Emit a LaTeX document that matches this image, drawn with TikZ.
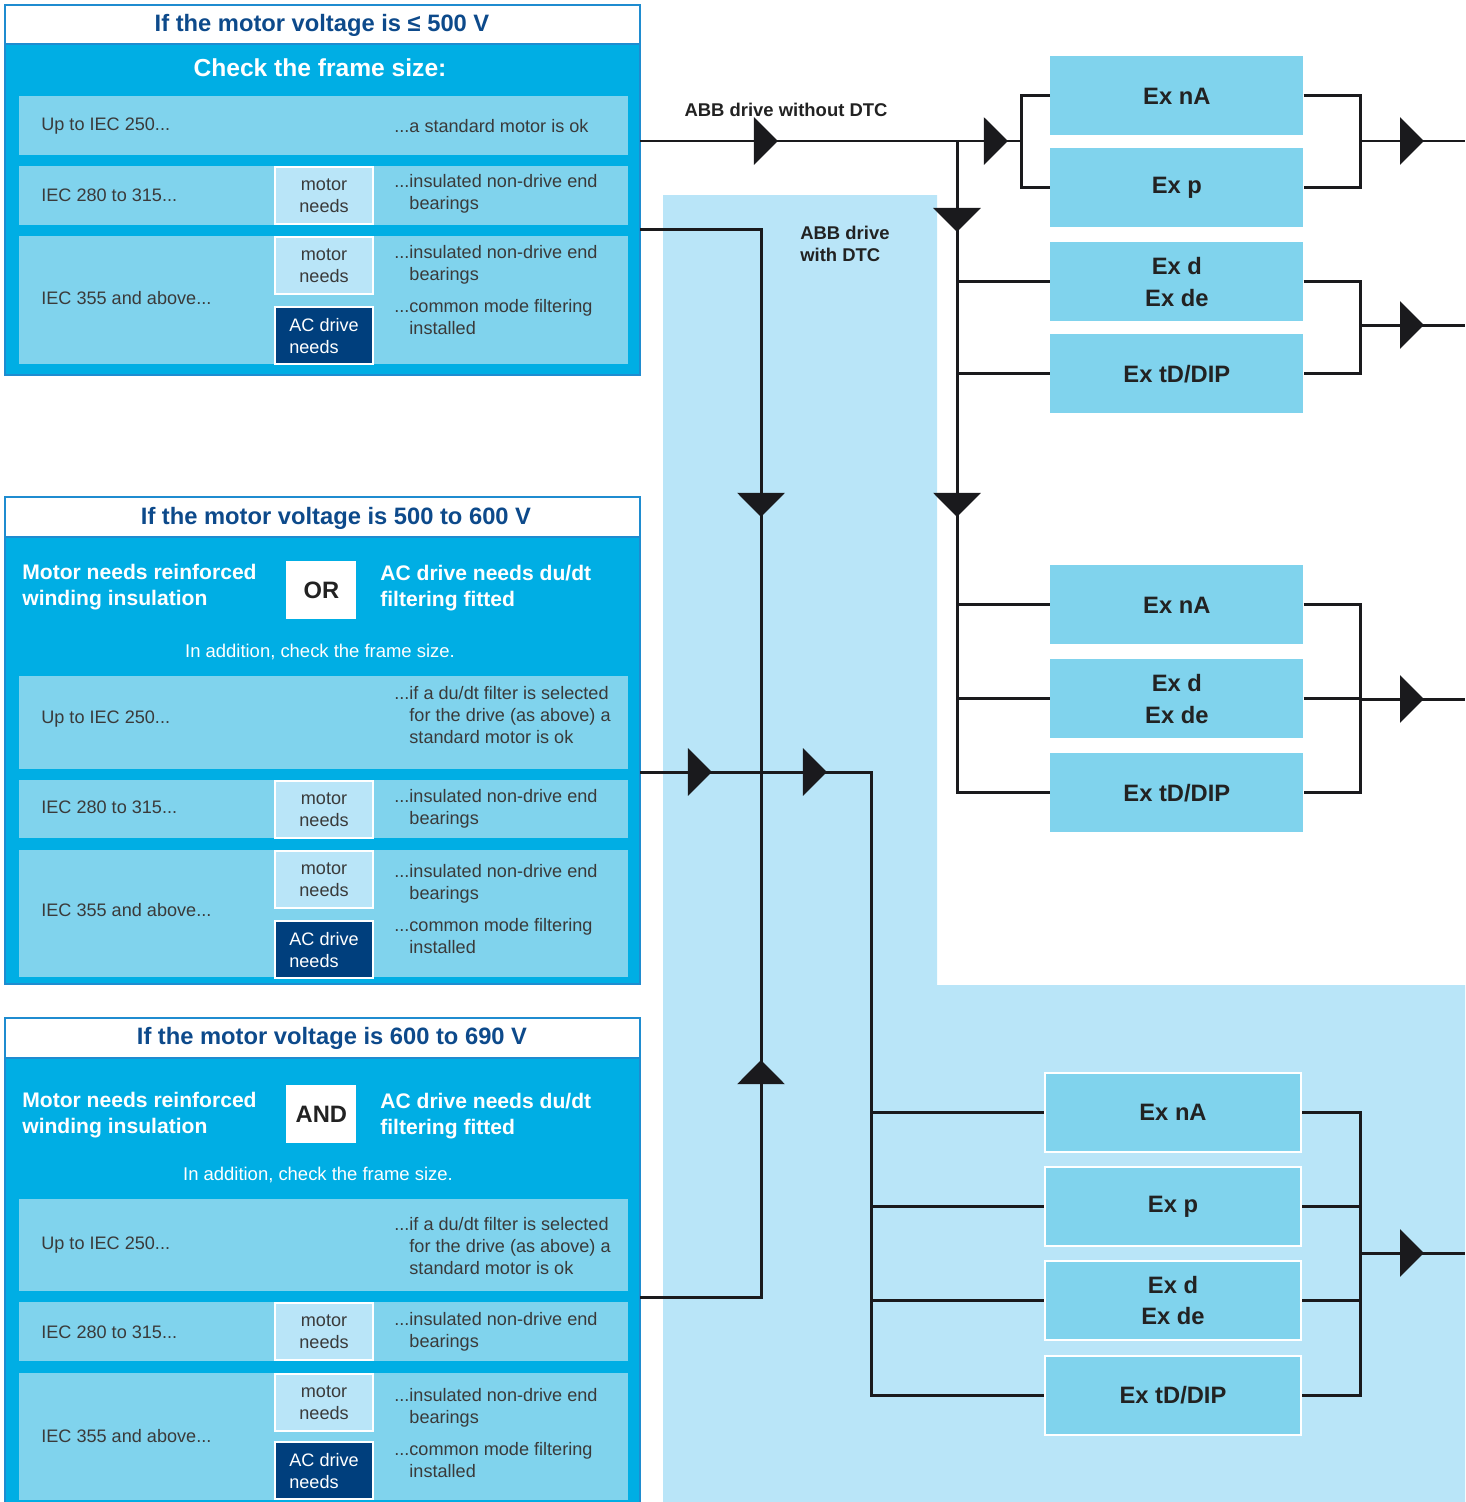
\documentclass[tikz,border=0pt]{standalone}
\usepackage{fontspec}
\setmainfont{Liberation Sans}
\usetikzlibrary{arrows.meta,decorations.markings}

\definecolor{drivebg}{HTML}{B9E5F8}
\definecolor{panelcyan}{HTML}{00AEE4}
\definecolor{panelline}{HTML}{1F8CD0}
\definecolor{rowblue}{HTML}{80D3ED}
\definecolor{navy}{HTML}{003F7D}
\definecolor{titleblue}{HTML}{0D4A8B}
\definecolor{textgray}{HTML}{3A3A3A}
\definecolor{textdark}{HTML}{222222}
\definecolor{linegray}{HTML}{1A1A1D}

\begin{document}
\begin{tikzpicture}[x=0.02cm, y=-0.02cm,
    flow/.style={draw=linegray, line width=1.7pt},
    tip at/.style={postaction={decorate, decoration={markings,
        mark=at position #1 with {\arrow{Triangle[length=0.48cm,width=0.94cm]}}}}},
    panel/.style={draw=panelline, fill=panelcyan, line width=1.2pt},
    head/.style={draw=panelline, fill=white, line width=1.2pt},
    title/.style={text=titleblue, font=\titlefont},
    check/.style={text=white, font=\checkfont},
    cond/.style={anchor=west, align=left, inner sep=0pt, text=white, font=\condfont},
    logic/.style={fill=white, anchor=north west, minimum width=1.4cm, minimum height=1.16cm, inner sep=0pt, text=textdark, font=\titlefont},
    extra/.style={text=white, font=\addfont},
    rowtext/.style={anchor=west, align=left, inner sep=0pt, text=textgray, font=\rowfont},
    needbox/.style={fill=drivebg, draw=white, line width=1.2pt, anchor=north west, minimum width=1.96cm, minimum height=1.14cm, inner sep=0pt, align=center, text=textgray, font=\rowfont},
    acbox/.style={needbox, fill=navy, text=white, align=left},
    exbox/.style={fill=rowblue, anchor=north west, minimum width=5.06cm, minimum height=1.58cm, inner sep=0pt, align=center, text=textdark, font=\exfont},
    exbox4/.style={exbox, draw=white, line width=1.2pt, minimum width=5.12cm},
    lbl/.style={text=textdark, font=\lblfont}]
  \def\rowfont{\fontsize{10.3}{12.5}\selectfont}
  \def\titlefont{\fontsize{13.5}{16}\selectfont\bfseries}
  \def\checkfont{\fontsize{14}{17}\selectfont\bfseries}
  \def\condfont{\fontsize{12}{14.7}\selectfont\bfseries}
  \def\addfont{\fontsize{10.5}{12.5}\selectfont}
  \def\exfont{\fontsize{13.5}{18}\selectfont\bfseries}
  \def\lblfont{\fontsize{10.5}{12.5}\selectfont\bfseries}
  \useasboundingbox (0,0) rectangle (1465,1502);

  % area of the drives with DTC
  \fill[drivebg] (663,195) -- (937,195) -- (937,985) -- (1465,985) -- (1465,1502) -- (663,1502) -- cycle;

  % voltage up to 500 V
  \draw[panel] (5,5) rectangle (640,375);
  \draw[head] (5,5) rectangle (640,44);
  \node[title] (title1) at (322,25) {If the motor voltage is ≤ 500 V};
  \node[check] (check1) at (320,68) {Check the frame size:};
  \fill[rowblue] (19,96) rectangle (628,155);
  \fill[rowblue] (19,166) rectangle (628,225);
  \fill[rowblue] (19,236) rectangle (628,364);
  \node[rowtext] (size1a) at (41,126) {Up to IEC 250...};
  \node[rowtext] (res1a) at (394,126) {...a standard motor is ok};
  \node[rowtext] (size1b) at (41,195) {IEC 280 to 315...};
  \node[needbox] (need1b) at (274,166) {motor\\needs};
  \node[rowtext] (res1b) at (394,194) {...insulated non-drive end\\\hphantom{...}bearings};
  \node[rowtext] (size1c) at (41,298) {IEC 355 and above...};
  \node[needbox] (need1c) at (274,236) {motor\\needs};
  \node[acbox] (ac1c) at (274,306) {AC drive\\needs};
  \node[rowtext] (res1c) at (394,265) {...insulated non-drive end\\\hphantom{...}bearings};
  \node[rowtext] (res1d) at (394,317) {...common mode filtering\\\hphantom{...}installed};
  \coordinate (out1a) at (640,141);
  \coordinate (out1b) at (640,229);

  % voltage 500 to 600 V
  \draw[panel] (5,497) rectangle (640,984);
  \draw[head] (5,497) rectangle (640,537);
  \node[title] (title2) at (336,518) {If the motor voltage is 500 to 600 V};
  \node[cond] (wind2) at (22,587) {Motor needs reinforced\\winding insulation};
  \node[logic] (or2) at (286,561) {OR};
  \node[cond] (dudt2) at (380,588) {AC drive needs du/dt\\filtering fitted};
  \node[extra] (add2) at (320,652) {In addition, check the frame size.};
  \fill[rowblue] (19,676) rectangle (628,769);
  \fill[rowblue] (19,780) rectangle (628,838);
  \fill[rowblue] (19,850) rectangle (628,977);
  \node[rowtext] (size2a) at (41,719) {Up to IEC 250...};
  \node[rowtext] (res2a) at (394,715) {...if a du/dt filter is selected\\\hphantom{...}for the drive (as above) a\\\hphantom{...}standard motor is ok};
  \node[rowtext] (size2b) at (41,807) {IEC 280 to 315...};
  \node[needbox] (need2b) at (274,780) {motor\\needs};
  \node[rowtext] (res2b) at (394,809) {...insulated non-drive end\\\hphantom{...}bearings};
  \node[rowtext] (size2c) at (41,910) {IEC 355 and above...};
  \node[needbox] (need2c) at (274,850) {motor\\needs};
  \node[acbox] (ac2c) at (274,920) {AC drive\\needs};
  \node[rowtext] (res2c) at (394,884) {...insulated non-drive end\\\hphantom{...}bearings};
  \node[rowtext] (res2d) at (394,936) {...common mode filtering\\\hphantom{...}installed};
  \coordinate (out2) at (640,772);

  % voltage 600 to 690 V
  \draw[panel] (5,1018) rectangle (640,1512);
  \draw[head] (5,1018) rectangle (640,1058);
  \node[title] (title3) at (332,1038) {If the motor voltage is 600 to 690 V};
  \node[cond] (wind3) at (22,1115) {Motor needs reinforced\\winding insulation};
  \node[logic] (and3) at (286,1085) {AND};
  \node[cond] (dudt3) at (380,1116) {AC drive needs du/dt\\filtering fitted};
  \node[extra] (add3) at (318,1175) {In addition, check the frame size.};
  \fill[rowblue] (19,1199) rectangle (628,1291);
  \fill[rowblue] (19,1302) rectangle (628,1361);
  \fill[rowblue] (19,1373) rectangle (628,1500);
  \node[rowtext] (size3a) at (41,1245) {Up to IEC 250...};
  \node[rowtext] (res3a) at (394,1246) {...if a du/dt filter is selected\\\hphantom{...}for the drive (as above) a\\\hphantom{...}standard motor is ok};
  \node[rowtext] (size3b) at (41,1332) {IEC 280 to 315...};
  \node[needbox] (need3b) at (274,1302) {motor\\needs};
  \node[rowtext] (res3b) at (394,1332) {...insulated non-drive end\\\hphantom{...}bearings};
  \node[rowtext] (size3c) at (41,1436) {IEC 355 and above...};
  \node[needbox] (need3c) at (274,1373) {motor\\needs};
  \node[acbox] (ac3c) at (274,1441) {AC drive\\needs};
  \node[rowtext] (res3c) at (394,1408) {...insulated non-drive end\\\hphantom{...}bearings};
  \node[rowtext] (res3d) at (394,1460) {...common mode filtering\\\hphantom{...}installed};
  \coordinate (out3) at (640,1297);

  % protection types
  \node[lbl] (nodtc) at (786,110) {ABB drive without DTC};
  \node[lbl, anchor=west, align=left, inner sep=0pt] (dtc) at (800,244) {ABB drive\\with DTC};
  \node[exbox] (na1) at (1050,56) {Ex nA};
  \node[exbox] (p1) at (1050,148) {Ex p};
  \node[exbox] (d1) at (1050,242) {Ex d\\Ex de};
  \node[exbox] (td1) at (1050,334) {Ex tD/DIP};
  \node[exbox] (na2) at (1050,565) {Ex nA};
  \node[exbox] (d2) at (1050,659) {Ex d\\Ex de};
  \node[exbox] (td2) at (1050,753) {Ex tD/DIP};
  \node[exbox4] (na3) at (1044,1072) {Ex nA};
  \node[exbox4] (p3) at (1044,1166) {Ex p};
  \node[exbox4] (d3) at (1044,1260) {Ex d\\Ex de};
  \node[exbox4] (td3) at (1044,1355) {Ex tD/DIP};

  \coordinate (j1) at (957,141);
  \coordinate (fork1) at (1021,141);
  \coordinate (cross) at (761,772);
  \coordinate (j4) at (871,772);
  \coordinate (join1) at (1360,141);
  \coordinate (join2) at (1360,325);
  \coordinate (join3) at (1360,699);
  \coordinate (join4) at (1360,1253);

  % without DTC
  \draw[flow, tip at=2.76cm, tip at=7.36cm] (out1a) -- (fork1);
  \draw[flow] (na1.west) -| (fork1) |- (p1.west);
  \draw[flow, tip at=1.82cm, tip at=7.52cm] (j1) |- (td2.west);
  \draw[flow] (j1 |- d1.west) -- (d1.west);
  \draw[flow] (j1 |- td1.west) -- (td1.west);
  \draw[flow] (j1 |- na2.west) -- (na2.west);
  \draw[flow] (j1 |- d2.west) -- (d2.west);
  \draw[flow, tip at=8.18cm] (out1b) -| (cross);
  \draw[flow, tip at=7.16cm] (out3) -| (cross);

  % with DTC
  \draw[flow, tip at=1.44cm, tip at=3.74cm] (out2) -- (j4) |- (td3.west);
  \draw[flow] (j4 |- na3.west) -- (na3.west);
  \draw[flow] (j4 |- p3.west) -- (p3.west);
  \draw[flow] (j4 |- d3.west) -- (d3.west);

  % outputs
  \draw[flow] (na1.east) -| (join1) |- (p1.east);
  \draw[flow] (d1.east) -| (join2) |- (td1.east);
  \draw[flow] (na2.east) -| (join3) |- (td2.east);
  \draw[flow] (d2.east) -- (join3 |- d2.east);
  \draw[flow] (na3.east) -| (join4) |- (td3.east);
  \draw[flow] (p3.east) -- (join4 |- p3.east);
  \draw[flow] (d3.east) -- (join4 |- d3.east);
  \foreach \j in {join1,join2,join3,join4}
    \draw[flow, tip at=1.28cm] (\j) -- ++(105,0);
\end{tikzpicture}
\end{document}
